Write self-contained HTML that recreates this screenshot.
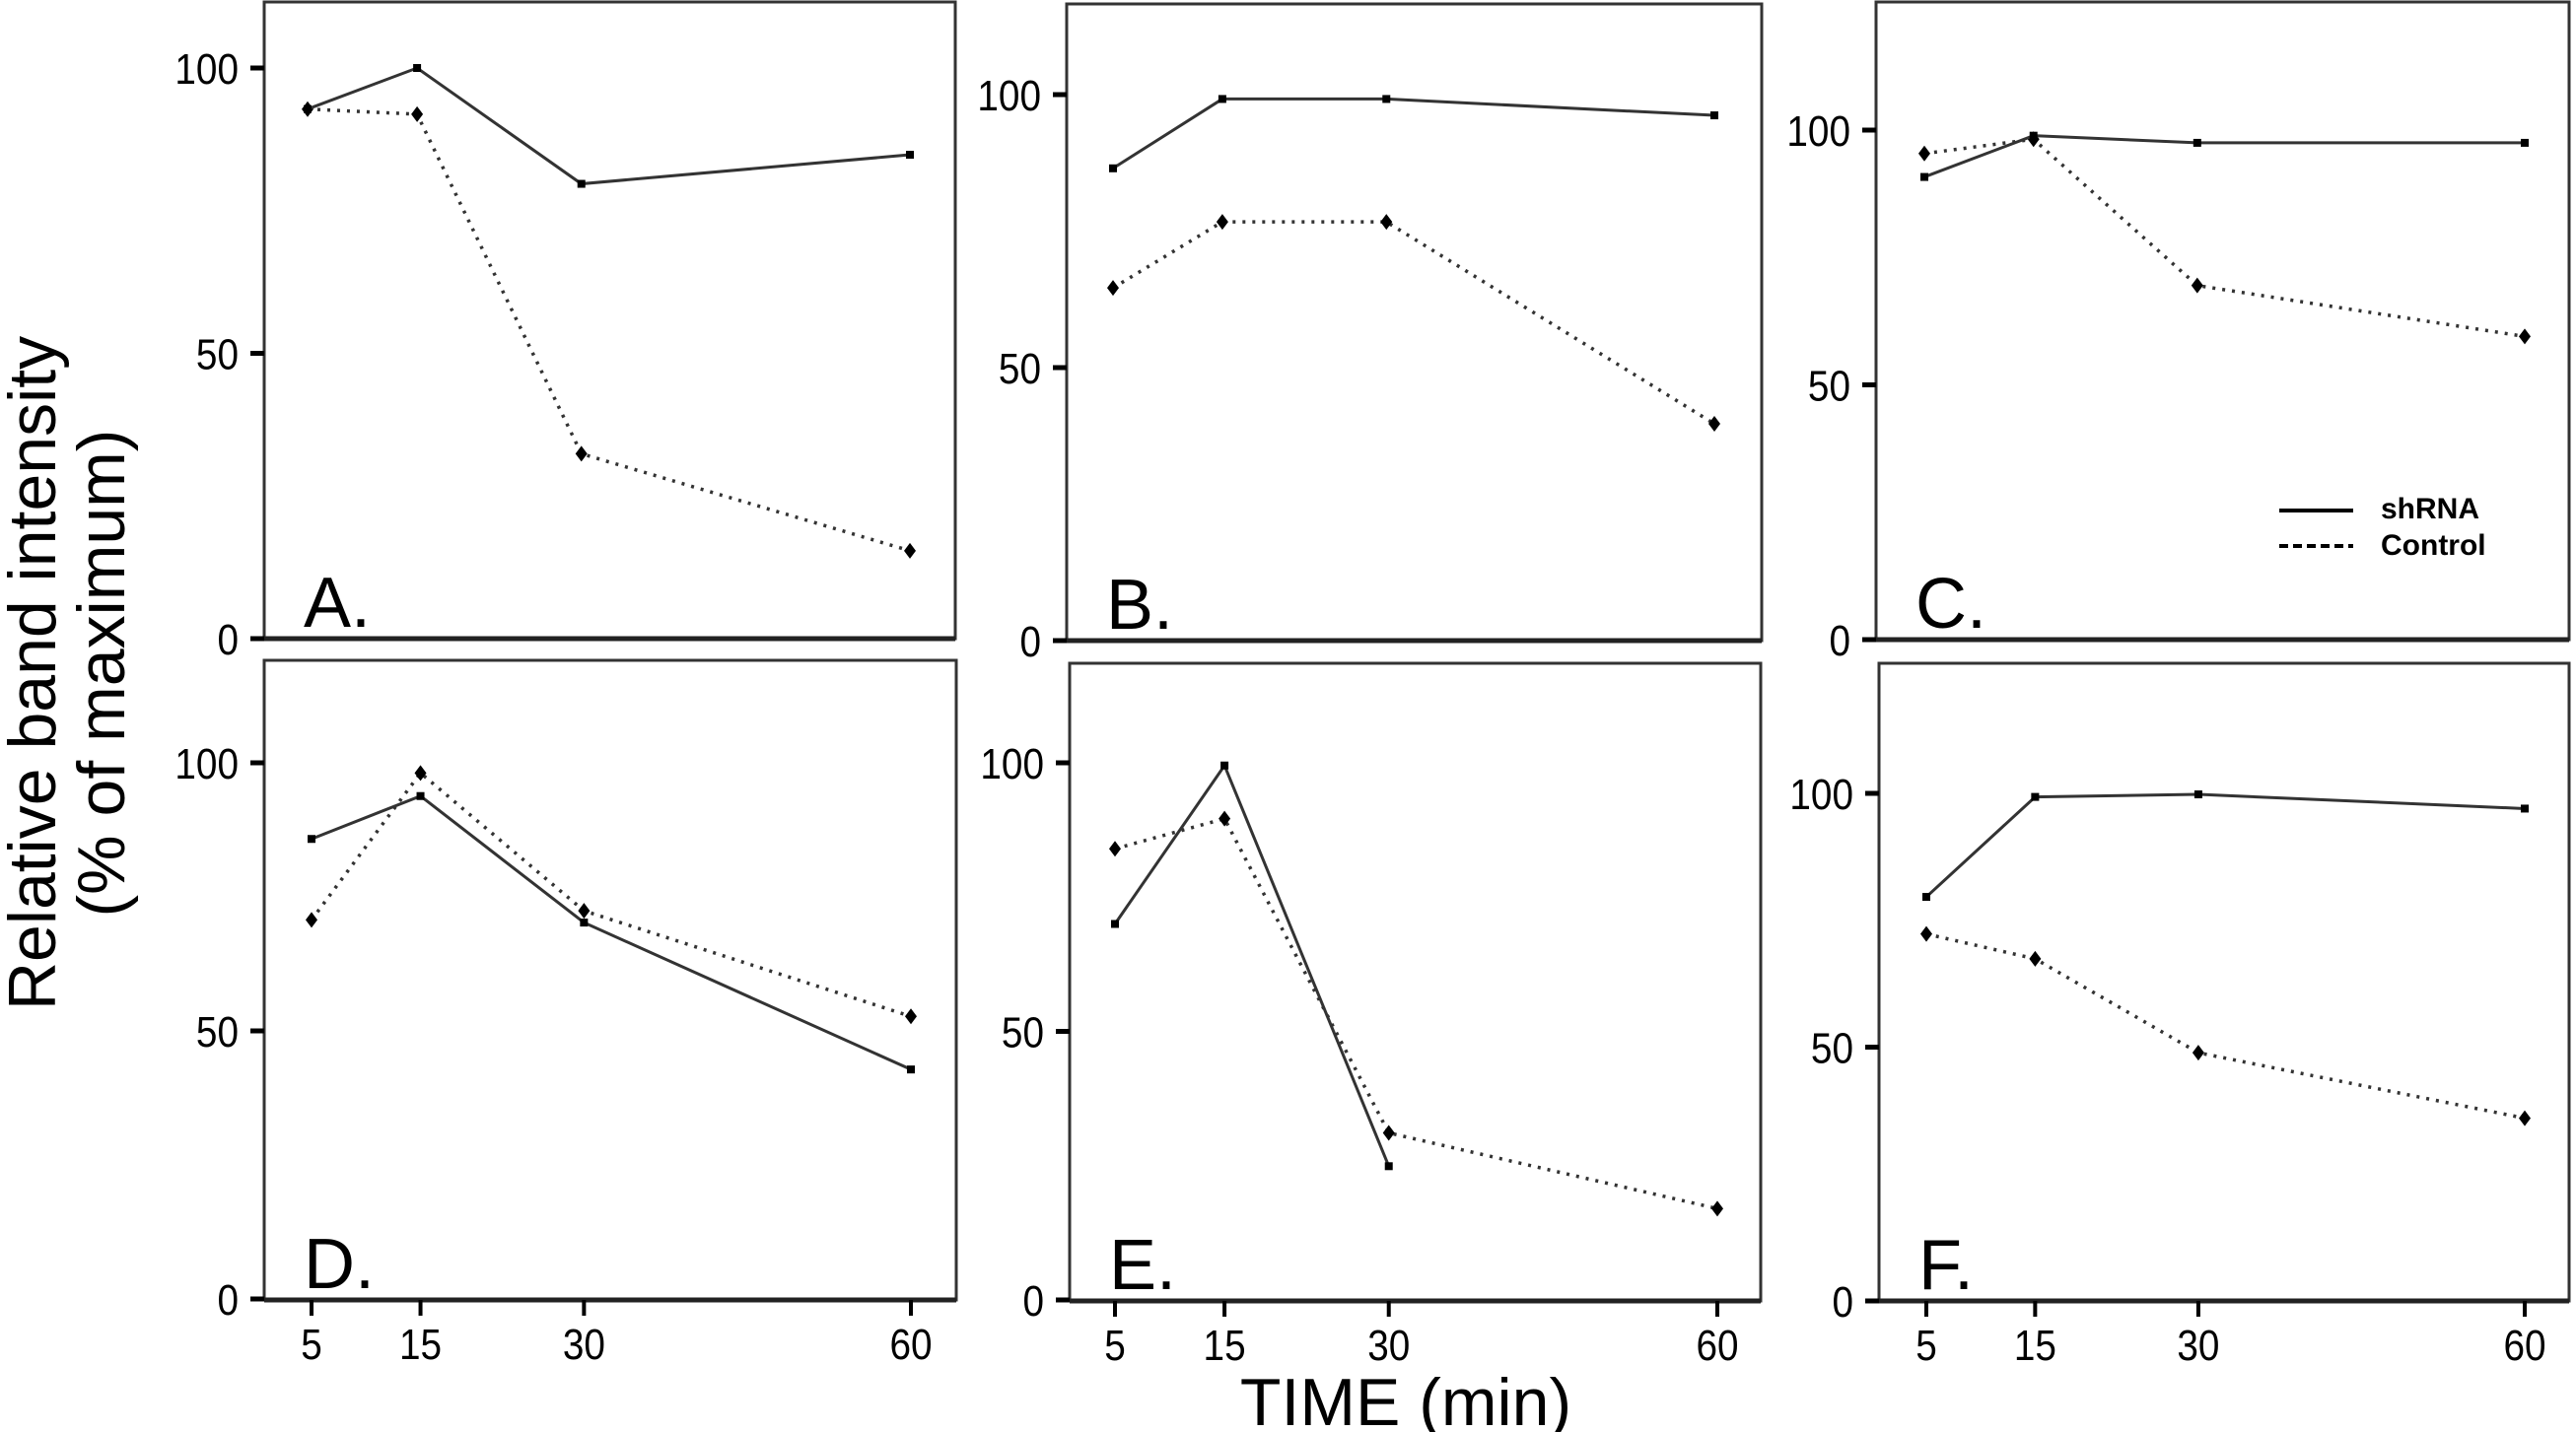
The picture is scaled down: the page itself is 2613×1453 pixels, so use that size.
<!DOCTYPE html>
<html><head><meta charset="utf-8"><style>
html,body{margin:0;padding:0;background:#fff;}
svg{display:block;font-family:"Liberation Sans",Arial,sans-serif;}
</style></head><body>
<svg id="fig" width="2613" height="1453" viewBox="0 0 2613 1453" xmlns="http://www.w3.org/2000/svg">
<text transform="translate(56,683) rotate(-90)" text-anchor="middle" font-size="68" fill="#000">Relative band intensity</text>
<text transform="translate(126,683) rotate(-90)" text-anchor="middle" font-size="68" fill="#000">(% of maximum)</text>
<text x="1426" y="1446" text-anchor="middle" font-size="68" fill="#000">TIME (min)</text>
<g>
<line x1="2312" y1="518" x2="2387" y2="518" stroke="#000" stroke-width="4"/>
<text x="2415" y="526" font-size="30" font-weight="bold" fill="#000">shRNA</text>
<line x1="2312" y1="554" x2="2387" y2="554" stroke="#000" stroke-width="4" stroke-dasharray="9,5"/>
<text x="2415" y="563" font-size="30" font-weight="bold" fill="#000">Control</text>
</g>
</svg>
<script>
const times = [5, 15, 30, 60];
const yTicks = [0, 50, 100];
const xTickLabels = ["5", "15", "30", "60"];
const panelNames = ["A.", "B.", "C.", "D.", "E.", "F."];
const shrnaA = [92.8, 100, 79.7, 84.8];
const controlA = [92.8, 91.9, 32.4, 15.4];
const shrnaB = [86.5, 99.2, 99.2, 96.2];
const controlB = [64.6, 76.7, 76.7, 39.7];
const shrnaC = [90.8, 98.9, 97.5, 97.5];
const controlC = [95.4, 98.2, 69.5, 59.5];
const shrnaD = [85.8, 93.8, 70.2, 42.8];
const controlD = [70.7, 98.1, 72.4, 52.7];
const shrnaE = [70.0, 99.5, 24.9, null];
const controlE = [84.0, 89.6, 31.1, 17.0];
const shrnaF = [79.6, 99.3, 99.8, 97.0];
const controlF = [72.3, 67.4, 48.9, 36.0];
const shrnaSeries = [shrnaA, shrnaB, shrnaC, shrnaD, shrnaE, shrnaF];
const controlSeries = [controlA, controlB, controlC, controlD, controlE, controlF];

// layout (pixel geometry, not data)
const layout = [
 {l:268,r:969,t:2,b:648,y100:69,y0:648,x5:312,x60:923,xt:false},
 {l:1082,r:1787,t:4,b:650,y100:96,y0:650,x5:1129,x60:1739,xt:false},
 {l:1903,r:2606,t:2,b:649,y100:132,y0:649,x5:1952,x60:2561,xt:false},
 {l:268,r:970,t:670,b:1319,y100:774,y0:1318,x5:316,x60:924,xt:true},
 {l:1085,r:1786,t:673,b:1320,y100:774,y0:1319,x5:1131,x60:1742,xt:true},
 {l:1906,r:2606,t:673,b:1320,y100:805,y0:1320,x5:1954,x60:2561,xt:true}
];
const NS = "http://www.w3.org/2000/svg";
const svg = document.getElementById("fig");
function mk(tag, attrs, parent){
  const e = document.createElementNS(NS, tag);
  for (const k in attrs) e.setAttribute(k, attrs[k]);
  parent.appendChild(e); return e;
}
layout.forEach((p, i) => {
  const xs = t => p.x5 + (t - 5) * (p.x60 - p.x5) / 55;
  const ys = v => p.y0 - v * (p.y0 - p.y100) / 100;
  const g = mk("g", {}, svg);
  
  
  const box = mk("rect", {x:p.l, y:p.t, width:p.r-p.l, height:p.b-p.t, fill:"none", stroke:"#333", "stroke-width":3}, g);
  
  
  mk("line", {x1:p.l, y1:p.b, x2:p.r, y2:p.b, stroke:"#222", "stroke-width":5}, g);
  yTicks.forEach(v => {
    const tk = mk("line", {x1:p.l-14, y1:ys(v), x2:p.l, y2:ys(v), stroke:"#000", "stroke-width":5}, g);
    
    
    const tl = mk("text", {x:p.l-26, y:ys(v)+16, "text-anchor":"end", "font-size":44, fill:"#000", transform:`translate(${(p.l-26)*0.12},0) scale(0.88,1)`}, g);
    
    
    tl.textContent = String(v);
  });
  if (p.xt) {
    times.forEach((t, j) => {
      const tk = mk("line", {x1:xs(t), y1:p.b, x2:xs(t), y2:p.b+16, stroke:"#000", "stroke-width":4}, g);
      
      
      const tl = mk("text", {x:xs(t), y:p.b+60, "text-anchor":"middle", "font-size":44, fill:"#000", transform:`translate(${xs(t)*0.12},0) scale(0.88,1)`}, g);
      
      
      tl.textContent = xTickLabels[j];
    });
  }
  const lab = mk("text", {x:p.l+40, y:p.b-12, "font-size":72, fill:"#000"}, g);
  
  
  lab.textContent = panelNames[i];
  const c = controlSeries[i];
  const cpts = times.map((t, j) => c[j] == null ? null : [xs(t), ys(c[j])]).filter(Boolean);
  const cl = mk("polyline", {points:cpts.map(q=>q.join(",")).join(" "), fill:"none", stroke:"#333", "stroke-width":3.5, "stroke-dasharray":"3,7"}, g);
  
  
  cpts.forEach(q => {
    const d = mk("polygon", {points:`${q[0]},${q[1]-8} ${q[0]+6},${q[1]} ${q[0]},${q[1]+8} ${q[0]-6},${q[1]}`, fill:"#000"}, g);
    
    
  });
  const s = shrnaSeries[i];
  const spts = times.map((t, j) => s[j] == null ? null : [xs(t), ys(s[j])]).filter(Boolean);
  const sl = mk("polyline", {points:spts.map(q=>q.join(",")).join(" "), fill:"none", stroke:"#333", "stroke-width":3}, g);
  
  
  spts.forEach(q => {
    const r = mk("rect", {x:q[0]-4, y:q[1]-4, width:8, height:8, fill:"#000"}, g);
    
    
  });
});
</script>
</body></html>
